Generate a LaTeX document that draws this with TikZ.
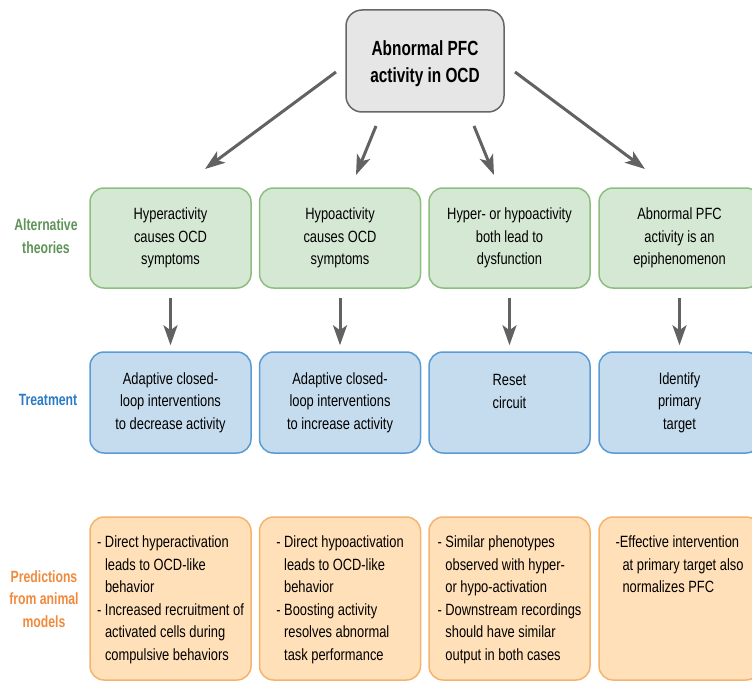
\documentclass[tikz,border=0pt]{standalone}
\usepackage{fontspec}
\setmainfont{Liberation Sans}[FakeStretch=0.79, BoldFeatures={FakeStretch=0.75}]
\usetikzlibrary{arrows.meta}
\definecolor{topfill}{HTML}{E6E6E6}
\definecolor{topdraw}{HTML}{666666}
\definecolor{greenfill}{HTML}{D5E8D4}
\definecolor{greendraw}{HTML}{8DBE80}
\definecolor{bluefill}{HTML}{C5DCEE}
\definecolor{bluedraw}{HTML}{5B9BD5}
\definecolor{orangefill}{HTML}{FFE0B8}
\definecolor{orangedraw}{HTML}{F5B46E}
\definecolor{arrowgray}{HTML}{626262}
\definecolor{labgreen}{HTML}{5E9458}
\definecolor{labblue}{HTML}{2B7BC4}
\definecolor{laborange}{HTML}{F08A3C}
\newcommand\bodyfont{\fontsize{16.3}{22.5}\selectfont}
\newcommand\titlefont{\fontsize{20.5}{27}\selectfont\bfseries}
\newcommand\labfont{\fontsize{16.3}{22.5}\selectfont\bfseries}
\newcommand\orangetext[1]{\parbox[c][163pt][t]{161pt}{\vspace*{15pt}\centering\bodyfont\begin{tabular}{@{}l@{}}#1\end{tabular}}}
\begin{document}
\begin{tikzpicture}[x=1pt,y=-1pt,
  box/.style={draw, rounded corners=14pt, line width=1.5pt, inner sep=0pt,
    minimum width=161pt, align=center, font=\bodyfont},
  greenbox/.style={box, fill=greenfill, draw=greendraw, minimum height=100pt},
  bluebox/.style={box, fill=bluefill, draw=bluedraw, minimum height=101pt},
  orangebox/.style={box, fill=orangefill, draw=orangedraw, minimum height=163pt},
  topbox/.style={draw=topdraw, fill=topfill, rounded corners=16pt, line width=1.5pt,
    minimum width=158pt, minimum height=102pt, align=center, font=\titlefont, inner sep=0pt},
  rowlabel/.style={align=center, font=\labfont, inner sep=0pt},
  arr/.style={draw=arrowgray, line width=3pt, -{Stealth[length=20pt,width=14pt,inset=5pt]}}
]
\useasboundingbox (0,0) rectangle (752,682);

\node[topbox] (top) at (425,61) {\begin{tabular}{@{}c@{}}\rule{0pt}{25pt}Abnormal PFC\\activity in OCD\end{tabular}};

\node[greenbox] (g1) at (170.5,238) {Hyperactivity\\causes OCD\\symptoms};
\node[greenbox] (g2) at (340,238) {Hypoactivity\\causes OCD\\symptoms};
\node[greenbox] (g3) at (509.5,238) {Hyper- or hypoactivity\\both lead to\\dysfunction};
\node[greenbox] (g4) at (679.5,238) {Abnormal PFC\\activity is an\\epiphenomenon};

\node[bluebox] (b1) at (170.5,402.5) {Adaptive closed-\\loop interventions\\to decrease activity};
\node[bluebox] (b2) at (340,402.5) {Adaptive closed-\\loop interventions\\to increase activity};
\node[bluebox] (b3) at (509.5,402.5) {Reset\\circuit\\\mbox{}};
\node[bluebox] (b4) at (679.5,402.5) {Identify\\primary\\target};

\node[orangebox] (p1) at (170.5,598.5) {\orangetext{- Direct hyperactivation\\\hphantom{- }leads to OCD-like\\\hphantom{- }behavior\\- Increased recruitment of\\\hphantom{- }activated cells during\\\hphantom{- }compulsive behaviors}};
\node[orangebox] (p2) at (340,598.5) {\orangetext{- Direct hypoactivation\\\hphantom{- }leads to OCD-like\\\hphantom{- }behavior\\- Boosting activity\\\hphantom{- }resolves abnormal\\\hphantom{- }task performance}};
\node[orangebox] (p3) at (509.5,598.5) {\orangetext{- Similar phenotypes\\\hphantom{- }observed with hyper-\\\hphantom{- }or hypo-activation\\- Downstream recordings\\\hphantom{- }should have similar\\\hphantom{- }output in both cases}};
\node[orangebox] (p4) at (679.5,598.5) {\orangetext{-Effective intervention\\\hphantom{-}\,at primary target also\\\hphantom{-}\,normalizes PFC}};

\node[rowlabel, text=labgreen] (lt) at (46,236) {Alternative\\theories};
\node[rowlabel, text=labblue] (lb) at (48,400) {Treatment};
\node[rowlabel, text=laborange] (lp) at (44,599) {Predictions\\from animal\\models};

\coordinate (s1) at (336,72);  \coordinate (e1) at (205,169);
\coordinate (s2) at (376,126); \coordinate (e2) at (356,175);
\coordinate (s3) at (474,126); \coordinate (e3) at (494,175);
\coordinate (s4) at (515,72);  \coordinate (e4) at (645,169);
\draw[arr] (s1) -- (e1);
\draw[arr] (s2) -- (e2);
\draw[arr] (s3) -- (e3);
\draw[arr] (s4) -- (e4);

\foreach \i in {1,2,3,4}
  \draw[arr, shorten <=9pt, shorten >=6pt] (g\i) -- (b\i);
\end{tikzpicture}
\end{document}
